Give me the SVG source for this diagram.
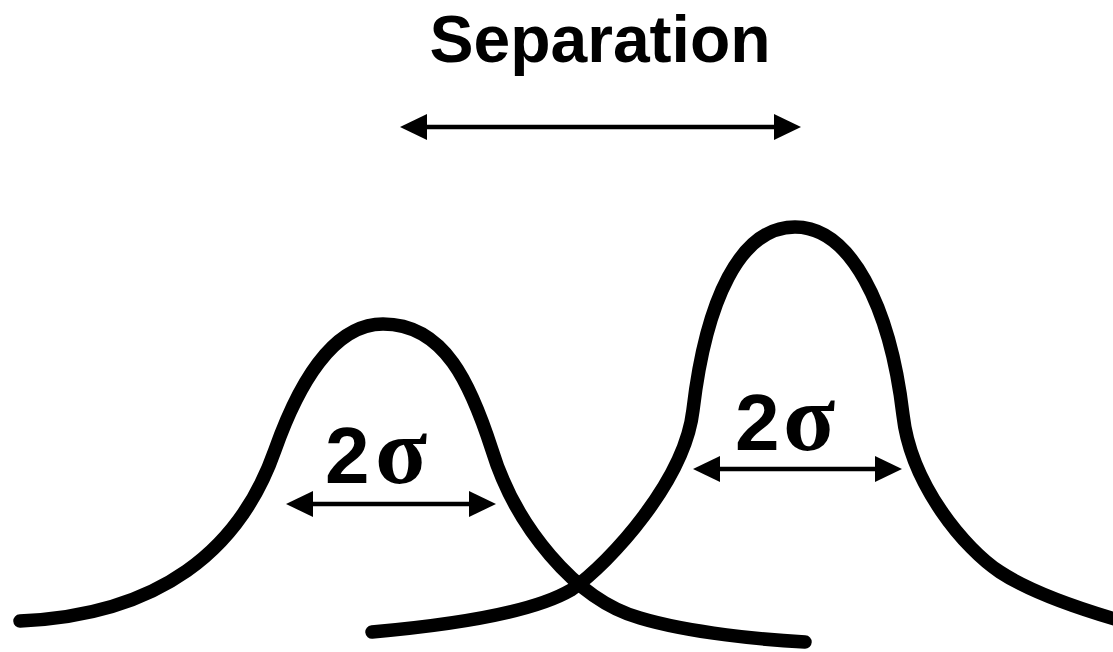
<svg xmlns="http://www.w3.org/2000/svg" width="1113" height="652" viewBox="0 0 1113 652">
  <style>
    .curve { fill: none; stroke: #000; stroke-width: 13.5; stroke-linecap: round; stroke-linejoin: round; }
    .dim { fill: none; stroke: #000; stroke-width: 4.5; }
    .lbl { font-family: "Liberation Sans", Arial, Helvetica, sans-serif; font-weight: bold; fill: #000; }
    .sig { font-family: "Liberation Serif", "Times New Roman", serif; font-weight: bold; }
  </style>
  <defs>
    <marker id="ah" viewBox="0 0 27 26" markerWidth="27" markerHeight="26" refX="1" refY="13" orient="auto-start-reverse" markerUnits="userSpaceOnUse" overflow="visible">
      <path d="M0,0 L27,13 L0,26 Z" fill="#000"/>
    </marker>
  </defs>
  <rect width="1113" height="652" fill="#fff"/>

  <g id="curve-left">
    <path class="curve" d="M20,621 C160,615 240,550 275,450 C298,385 333,324 383,324 C445,324 471,385 492,450 C515,525 575,600 640,618 C690,633 765,640 805,642"/>
  </g>

  <g id="curve-right">
    <path class="curve" d="M372,632 C440,626 530,614 571,590 C611,562 685,480 693,410 C706,300 740,227 795,227 C850,227 890,305 903,415 C911,485 965,549 1000,572 C1035,595 1090,612 1125,622"/>
  </g>

  <g id="connectors">
    <line id="arrow-separation" class="dim" x1="426" y1="127" x2="775" y2="127" marker-start="url(#ah)" marker-end="url(#ah)"/>
    <line id="arrow-sigma-left" class="dim" x1="312" y1="504" x2="470" y2="504" marker-start="url(#ah)" marker-end="url(#ah)"/>
    <line id="arrow-sigma-right" class="dim" x1="719" y1="469" x2="876" y2="469" marker-start="url(#ah)" marker-end="url(#ah)"/>
  </g>

  <g id="label-separation">
    <text class="lbl" x="600" y="62" font-size="66" text-anchor="middle">Separation</text>
  </g>
  <g id="label-sigma-left">
    <text class="lbl" x="325" y="483" font-size="80">2<tspan class="sig" x="375" font-size="96">σ</tspan></text>
  </g>
  <g id="label-sigma-right">
    <text class="lbl" x="735" y="450" font-size="80">2<tspan class="sig" x="783" font-size="96">σ</tspan></text>
  </g>
</svg>
